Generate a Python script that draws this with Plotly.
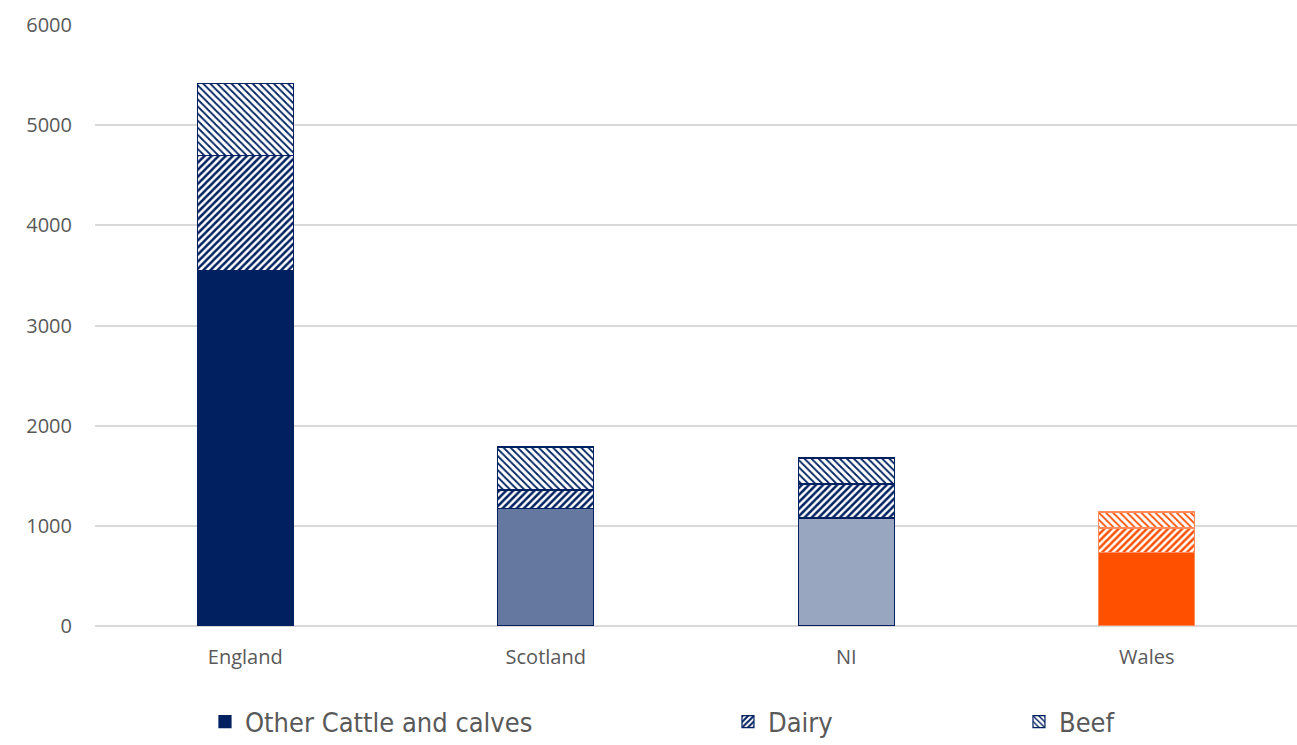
import plotly.graph_objects as go

categories = ["England", "Scotland", "NI", "Wales"]
other_cattle = [3550, 1175, 1078, 730]
dairy = [1150, 182, 340, 248]
beef = [720, 430, 260, 160]

fill_colors = ["#002060", "#65789f", "#99a6bf", "#ff5000"]
pattern_colors = ["#002060", "#002060", "#002060", "#ff5000"]
line_colors = ["#002060", "#002060", "#002060", "#ff8a5c"]

fig = go.Figure()
fig.add_trace(go.Bar(
    x=categories, y=other_cattle, name="Other Cattle and calves",
    marker=dict(color=fill_colors, line=dict(color=line_colors, width=1.2)),
    legend="legend",
))
fig.add_trace(go.Bar(
    x=categories, y=dairy, name="Dairy",
    marker=dict(color="white", line=dict(color=line_colors, width=1.2),
                pattern=dict(shape="/", fgcolor=pattern_colors, bgcolor="white",
                             size=5, solidity=0.5, fillmode="replace")),
    legend="legend2",
))
fig.add_trace(go.Bar(
    x=categories, y=beef, name="Beef",
    marker=dict(color="white", line=dict(color=line_colors, width=1.2),
                pattern=dict(shape="\\", fgcolor=pattern_colors, bgcolor="white",
                             size=5, solidity=0.35, fillmode="replace")),
    legend="legend3",
))

legend_common = dict(orientation="h", yanchor="middle", y=-0.16, xanchor="left",
                     font=dict(family="DejaVu Sans Condensed, Liberation Sans Narrow, sans-serif",
                               size=27, color="#595959"),
                     bgcolor="rgba(0,0,0,0)", itemwidth=30)

fig.update_layout(
    width=1297, height=745,
    showlegend=True,
    barmode="stack", bargap=0.68,
    plot_bgcolor="white", paper_bgcolor="white",
    margin=dict(l=95, r=0, t=25, b=119, autoexpand=False),
    font=dict(family="Open Sans, sans-serif", size=20, color="#595959"),
    xaxis=dict(showgrid=False, showline=False, ticks="", tickfont=dict(size=20),
               ticklabelstandoff=17),
    yaxis=dict(range=[0, 6000], dtick=1000, showgrid=True, gridcolor="#d9d9d9",
               gridwidth=1.5, zeroline=True, zerolinecolor="#d9d9d9", zerolinewidth=1.5,
               showline=False, ticks="", ticklabelstandoff=22, tickfont=dict(size=20)),
    legend=dict(legend_common, x=0.0915),
    legend2=dict(legend_common, x=0.5266),
    legend3=dict(legend_common, x=0.7687),
)

fig.write_html(
    "out.html",
    config={"displayModeBar": False},
    post_script="document.body.style.margin='0';document.body.style.overflow='hidden';",
)
